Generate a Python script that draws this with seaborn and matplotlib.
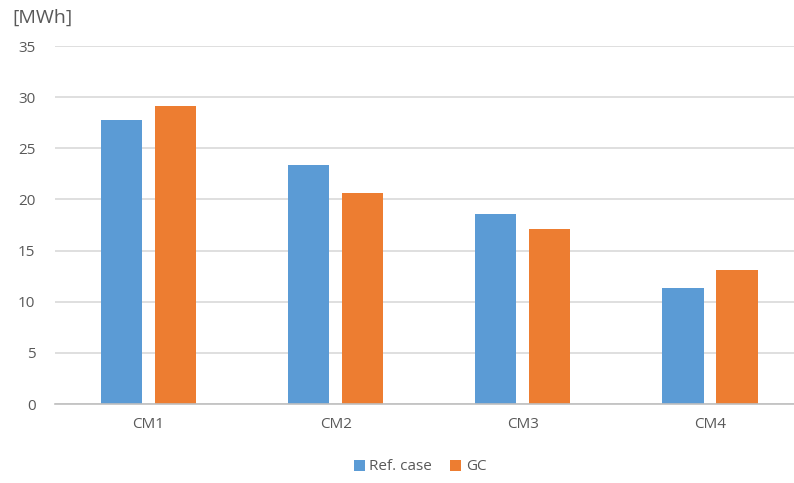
import matplotlib
matplotlib.use("Agg")
import matplotlib.pyplot as plt
import seaborn as sns
import pandas as pd

categories = ["CM1", "CM2", "CM3", "CM4"]
ref_case = [27.8, 23.4, 18.6, 11.3]
gc = [29.1, 20.6, 17.1, 13.1]
series_names = ["Ref. case", "GC"]
y_ticks = [0, 5, 10, 15, 20, 25, 30, 35]

df = pd.DataFrame({
    "cat": categories * 2,
    "val": ref_case + gc,
    "series": [series_names[0]] * 4 + [series_names[1]] * 4,
})

sns.set_theme(style="white")
plt.rcParams["font.family"] = ["Open Sans", "DejaVu Sans"]
text_col = "#595959"

fig = plt.figure(figsize=(7.94, 4.83), dpi=100)
ax = fig.add_axes([54.9 / 794, 1 - 404 / 483, 748.7 / 794, 358 / 483])

sns.barplot(data=df, x="cat", y="val", hue="series", order=categories,
            hue_order=series_names, palette=["#5B9BD5", "#ED7D31"],
            width=0.577, gap=0.24, ax=ax, legend=True, saturation=1,
            linewidth=0)

ax.set_ylim(0, 35)
ax.set_xlim(-0.5, 3.5)
ax.set_yticks(y_ticks)
ax.yaxis.grid(True, color="#D9D9D9", linewidth=1.2)
ax.set_axisbelow(True)
for s in ["top", "right", "left"]:
    ax.spines[s].set_visible(False)
ax.spines["bottom"].set_color("#BFBFBF")
ax.spines["bottom"].set_linewidth(1.2)
ax.tick_params(axis="both", length=0, colors=text_col, labelsize=11)
ax.tick_params(axis="y", pad=14)
ax.tick_params(axis="x", pad=9)
ax.set_xlabel("")
ax.set_ylabel("")

fig.text(12 / 794, 1 - 18 / 483, "[MWh]", fontsize=14, color=text_col, va="center")

ax.legend(loc="center", bbox_to_anchor=(420 / 794, 1 - 467 / 483),
          bbox_transform=fig.transFigure, ncol=2, frameon=False,
          fontsize=11, labelcolor=text_col, handlelength=0.7, handleheight=0.7,
          handletextpad=0.3, columnspacing=1.2)

fig.savefig("out.png", dpi=100)
